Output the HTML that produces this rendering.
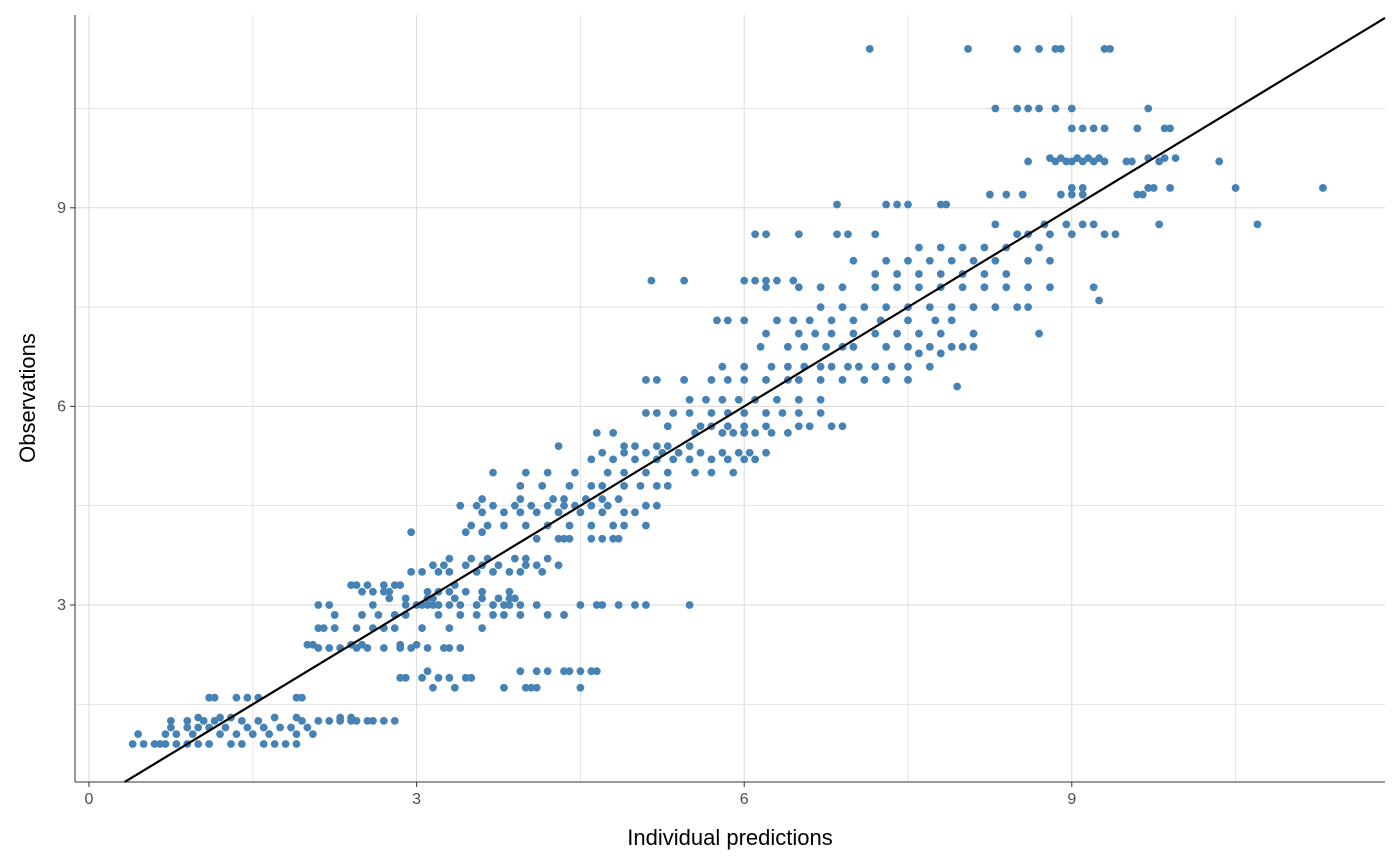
<!DOCTYPE html>
<html><head><meta charset="utf-8"><style>
body{margin:0;background:#fff}
svg{display:block;font-family:"Liberation Sans",Arial,sans-serif}
</style></head><body>
<svg id="chart" width="1400" height="866">
<g id="grid"></g>
<g id="points"></g>
<g id="axes"></g>
<text x="730" y="845" text-anchor="middle" font-size="22" fill="#000">Individual predictions</text>
<text transform="translate(35,398) rotate(-90)" text-anchor="middle" font-size="22" fill="#000">Observations</text>
</svg>
<script>
const xTicks=[0,3,6,9];
const yTicks=[3,6,9];
const xMinor=[1.5,4.5,7.5,10.5];
const yMinor=[1.5,4.5,7.5,10.5];
const obsLevels=[0.9,1.05,1.15,1.25,1.3,1.6,1.75,1.9,2.0,2.35,2.4,2.65,2.85,3.0,3.1,3.3,3.2,3.5,3.6,3.7,4.1,4.0,4.2,4.4,4.5,4.6,4.8,5.0,5.2,5.3,5.4,5.6,5.7,5.9,6.1,6.4,6.6,6.9,7.1,7.3,7.5,7.8,7.9,8.0,8.2,8.4,8.6,8.75,9.05,9.2,9.3,9.7,9.75,10.2,10.5,11.4];
const predLists=[
[0.4,0.5,0.6,0.65,0.7,0.8,0.9,1.0,1.1,1.3,1.4,1.6,1.7,1.8,1.9],
[0.45,0.7,0.8,0.95,1.2,1.35,1.5,1.65,1.9,2.05],
[0.75,0.9,1.0,1.1,1.25,1.45,1.6,1.75,1.85,2.0],
[0.75,0.9,1.05,1.15,1.4,1.55,1.95,2.1,2.2,2.3,2.4,2.45,2.55,2.6,2.7,2.8],
[1.0,1.2,1.3,1.7,1.9,2.3,2.4],
[1.1,1.15,1.35,1.45,1.55,1.9,1.95],
[3.15,3.35,3.8,4.0,4.05,4.1,4.5],
[2.85,2.9,3.05,3.2,3.3,3.45,3.5],
[3.1,3.95,4.1,4.2,4.35,4.4,4.5,4.6,4.65],
[2.1,2.2,2.3,2.45,2.55,2.7,2.85,2.95,3.1,3.25,3.3,3.4],
[2.0,2.05,2.4,2.5,2.85,3.0],
[2.1,2.15,2.25,2.45,2.6,2.7,2.8,3.05,3.3,3.6],
[2.25,2.5,2.65,2.8,2.9,3.2,3.4,3.55,3.7,3.8,3.95,4.2,4.35],
[2.1,2.2,2.6,2.9,3.0,3.05,3.1,3.15,3.2,3.3,3.4,3.55,3.7,3.8,3.85,3.95,4.1,4.5,4.65,4.7,4.85,5.0,5.1,5.5],
[2.75,2.9,3.1,3.15,3.35,3.6,3.75,3.85,3.9],
[2.4,2.45,2.55,2.7,2.8,2.85,3.35],
[2.5,2.6,2.7,2.75,3.1,3.2,3.3,3.45,3.6,3.85],
[2.95,3.05,3.2,3.3,3.55,3.7,3.85,3.95,4.15],
[3.15,3.25,3.45,3.6,3.75,4.0,4.1,4.3],
[3.3,3.5,3.65,3.9,4.0,4.2],
[2.95,3.45,3.6],
[4.1,4.3,4.35,4.4,4.6,4.7,4.8,4.85],
[3.5,3.65,3.8,4.0,4.2,4.4,4.6,4.8,4.9,5.1],
[3.6,3.8,3.95,4.1,4.3,4.5,4.7,4.9,5.0],
[3.4,3.55,3.7,3.9,4.05,4.2,4.35,4.45,4.6,4.75,5.1,5.2],
[3.6,3.95,4.25,4.35,4.55,4.7,4.85],
[3.95,4.15,4.4,4.6,4.7,4.9,5.05,5.2,5.3],
[3.7,4.0,4.2,4.45,4.75,4.9,5.1,5.3,5.55,5.7,5.9],
[4.6,4.8,5.0,5.2,5.35,5.5,5.7,5.85,6.0,6.1],
[4.7,4.9,5.1,5.25,5.4,5.6,5.8,5.95,6.05,6.2],
[4.3,4.9,5.0,5.2,5.3,5.5],
[4.65,4.8,5.55,5.8,5.9,6.0,6.1,6.25,6.4],
[5.3,5.6,5.7,5.85,6.0,6.2,6.5,6.6,6.8,6.9],
[5.1,5.2,5.35,5.5,5.7,5.85,6.0,6.2,6.35,6.5,6.7],
[5.5,5.65,5.8,5.95,6.1,6.3,6.5,6.7],
[5.1,5.2,5.45,5.7,5.85,6.0,6.2,6.4,6.5,6.7,6.9,7.1,7.3,7.5],
[5.8,6.0,6.25,6.4,6.55,6.7,6.8,6.95,7.05,7.2,7.35,7.5,7.7],
[6.15,6.4,6.55,6.75,6.9,7.0,7.3,7.5,7.7,7.9,8.0,8.1],
[6.2,6.5,6.65,6.8,7.0,7.2,7.4,7.6,7.8,8.1],
[5.75,5.85,6.0,6.3,6.45,6.6,6.8,7.0,7.25,7.5,7.75],
[6.7,6.9,7.1,7.3,7.5,7.7,7.9,8.1,8.3,8.5,8.6],
[6.2,6.5,6.7,6.9,7.2,7.4,7.6,7.8,8.0,8.2,8.4,8.6,8.8,9.2],
[5.15,5.45,6.0,6.1,6.2,6.3,6.45],
[7.2,7.4,7.6,7.8,8.0,8.2,8.4],
[7.0,7.3,7.5,7.7,7.9,8.1,8.3,8.6,8.8],
[7.6,7.8,8.0,8.2,8.4,8.7],
[6.1,6.2,6.5,6.85,6.95,7.2,8.5,8.6,8.8,9.0,9.3,9.4],
[8.3,8.75,8.95,9.1,9.2,9.8,10.7],
[6.85,7.3,7.4,7.5,7.8,7.85],
[8.25,8.4,8.55,8.9,9.0,9.1,9.6,9.65],
[9.0,9.1,9.7,9.75,9.9,10.5,11.3],
[8.6,8.85,8.95,9.0,9.1,9.2,9.3,9.5,9.55,9.8,10.35],
[8.8,8.9,9.05,9.15,9.25,9.7,9.85,9.95],
[9.0,9.1,9.2,9.3,9.6,9.85,9.9],
[8.3,8.5,8.6,8.7,8.85,9.0,9.7],
[7.15,8.05,8.5,8.7,8.85,8.9,9.3,9.35]];
const extraPred=[7.95,8.7,7.6,7.8,7.9,9.25];
const extraObs=[6.3,7.1,6.8,6.8,7.3,7.6];

const L=75,R=1385,T=15,B=782;
const X=v=>89+v*109.2;
const Y=v=>803.6-v*66.2;
const NS='http://www.w3.org/2000/svg';
function mk(tag,attrs,parent){const e=document.createElementNS(NS,tag);for(const k in attrs)e.setAttribute(k,attrs[k]);parent.appendChild(e);return e;}
const grid=document.getElementById('grid'),pts=document.getElementById('points'),axes=document.getElementById('axes');
xMinor.concat(xTicks).forEach(v=>{const l=mk('line',{x1:X(v),x2:X(v),y1:T,y2:B,stroke:'#dadada','stroke-width':xTicks.includes(v)?1:0.7},grid);

});
yMinor.concat(yTicks).forEach(v=>{const l=mk('line',{x1:L,x2:R,y1:Y(v),y2:Y(v),stroke:'#dadada','stroke-width':yTicks.includes(v)?1:0.7},grid);

});
function dot(px,py){const c=mk('circle',{cx:X(px),cy:Y(py),r:3.9,fill:'#4682B4'},pts);

}
obsLevels.forEach((o,i)=>predLists[i].forEach(p=>dot(p,o)));
extraPred.forEach((p,i)=>dot(p,extraObs[i]));
const x0=(803.6-B)/66.2, x1=(R-89)/109.2, y1v=Math.min(x1,(803.6-T)/66.2);
const idl=mk('line',{x1:X(x0),y1:Y(x0),x2:X(y1v),y2:Y(y1v),stroke:'#000','stroke-width':2.2},pts);


mk('line',{x1:L,x2:L,y1:T,y2:B,stroke:'#333','stroke-width':1},axes);
mk('line',{x1:L,x2:R,y1:B,y2:B,stroke:'#333','stroke-width':1},axes);
xTicks.forEach(v=>{mk('line',{x1:X(v),x2:X(v),y1:B,y2:B+5,stroke:'#333'},axes);
const t=mk('text',{x:X(v),y:B+22,'text-anchor':'middle','font-size':16,fill:'#4d4d4d'},axes);t.textContent=v;

});
yTicks.forEach(v=>{mk('line',{x1:L-5,x2:L,y1:Y(v),y2:Y(v),stroke:'#333'},axes);
const t=mk('text',{x:L-9,y:Y(v)+5,'text-anchor':'end','font-size':16,fill:'#4d4d4d'},axes);t.textContent=v;

});
</script>
</body></html>
